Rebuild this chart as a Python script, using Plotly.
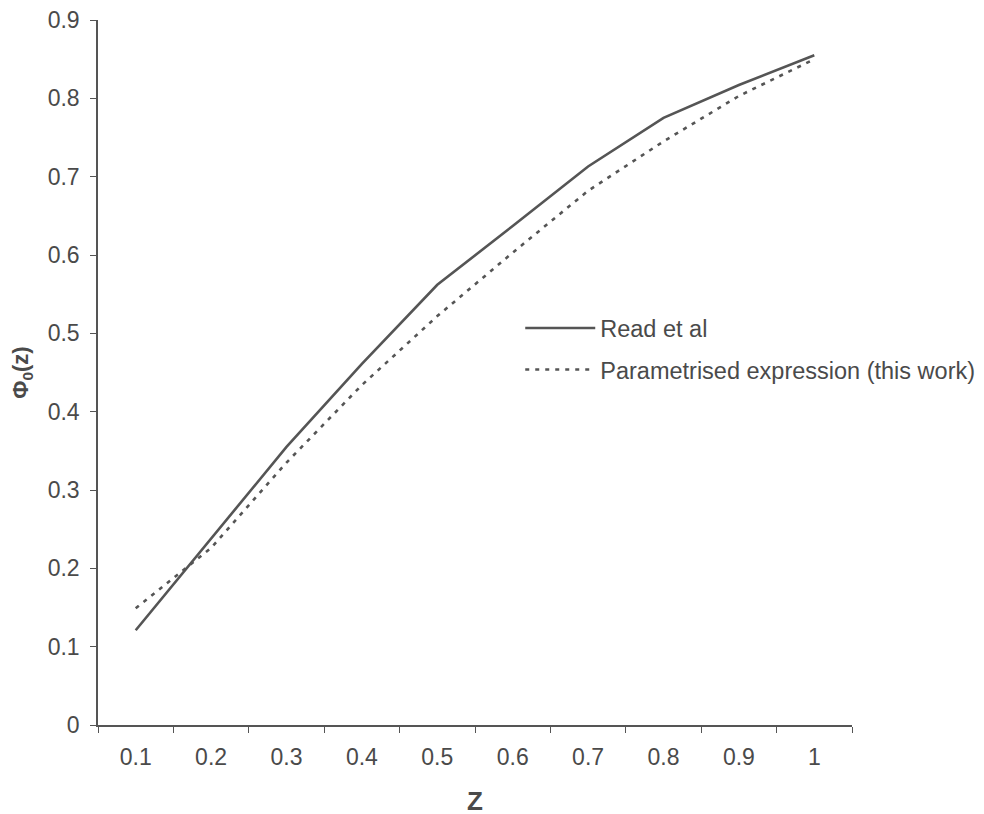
import plotly.graph_objects as go

categories = ["0.1", "0.2", "0.3", "0.4", "0.5", "0.6", "0.7", "0.8", "0.9", "1"]
read_et_al = [0.121, 0.238, 0.355, 0.461, 0.562, 0.637, 0.713, 0.775, 0.817, 0.855]
parametrised = [0.149, 0.226, 0.335, 0.434, 0.522, 0.603, 0.682, 0.745, 0.803, 0.850]
y_ticks = [0, 0.1, 0.2, 0.3, 0.4, 0.5, 0.6, 0.7, 0.8, 0.9]
y_tick_labels = ["0", "0.1", "0.2", "0.3", "0.4", "0.5", "0.6", "0.7", "0.8", "0.9"]

FONT = "Liberation Sans, Arial, sans-serif"
TXT = "#4a4a4a"
LINE = "#555555"

fig = go.Figure()
fig.add_trace(go.Scatter(
    x=categories, y=read_et_al, mode="lines", name="Read et al",
    line=dict(color=LINE, width=2.6), legendgroup="a"))
fig.add_trace(go.Scatter(
    x=categories, y=parametrised, mode="lines", name="Parametrised expression (this work)",
    line=dict(color=LINE, width=2.6, dash="4px,6px"), legendgroup="b"))

fig.update_layout(
    width=984, height=814,
    margin=dict(l=90, r=137, t=12, b=97),
    paper_bgcolor="white", plot_bgcolor="white",
    font=dict(family=FONT, color=TXT, size=23),
    showlegend=True,
    legend=dict(x=0.560, y=0.594, xanchor="left", yanchor="top",
                bgcolor="rgba(0,0,0,0)", font=dict(size=23.5, color=TXT),
                tracegroupgap=8, itemwidth=70),
    xaxis=dict(type="category", range=[-0.5, 9.5], tickson="boundaries", showgrid=False,
               showline=True, linecolor=LINE, linewidth=1.5, automargin=False,
               ticks="outside", ticklen=6, tickcolor=LINE,
               ticklabelstandoff=11, tickfont=dict(size=23),
               title=dict(text="<b>Z</b>", font=dict(size=26), standoff=22),
               zeroline=False),
    yaxis=dict(range=[0, 0.9], tickvals=y_ticks, ticktext=y_tick_labels,
               showgrid=False, showline=True, linecolor=LINE, linewidth=1.5,
               automargin=False, ticklabeloverflow="allow",
               ticks="outside", ticklen=6, tickcolor=LINE, zeroline=False,
               tickfont=dict(size=23), ticklabelstandoff=6,
               title=dict(text="<b>Φ<sub>0</sub>(z)</b>", font=dict(size=22), standoff=22)),
)

fig.write_html("out.html")
